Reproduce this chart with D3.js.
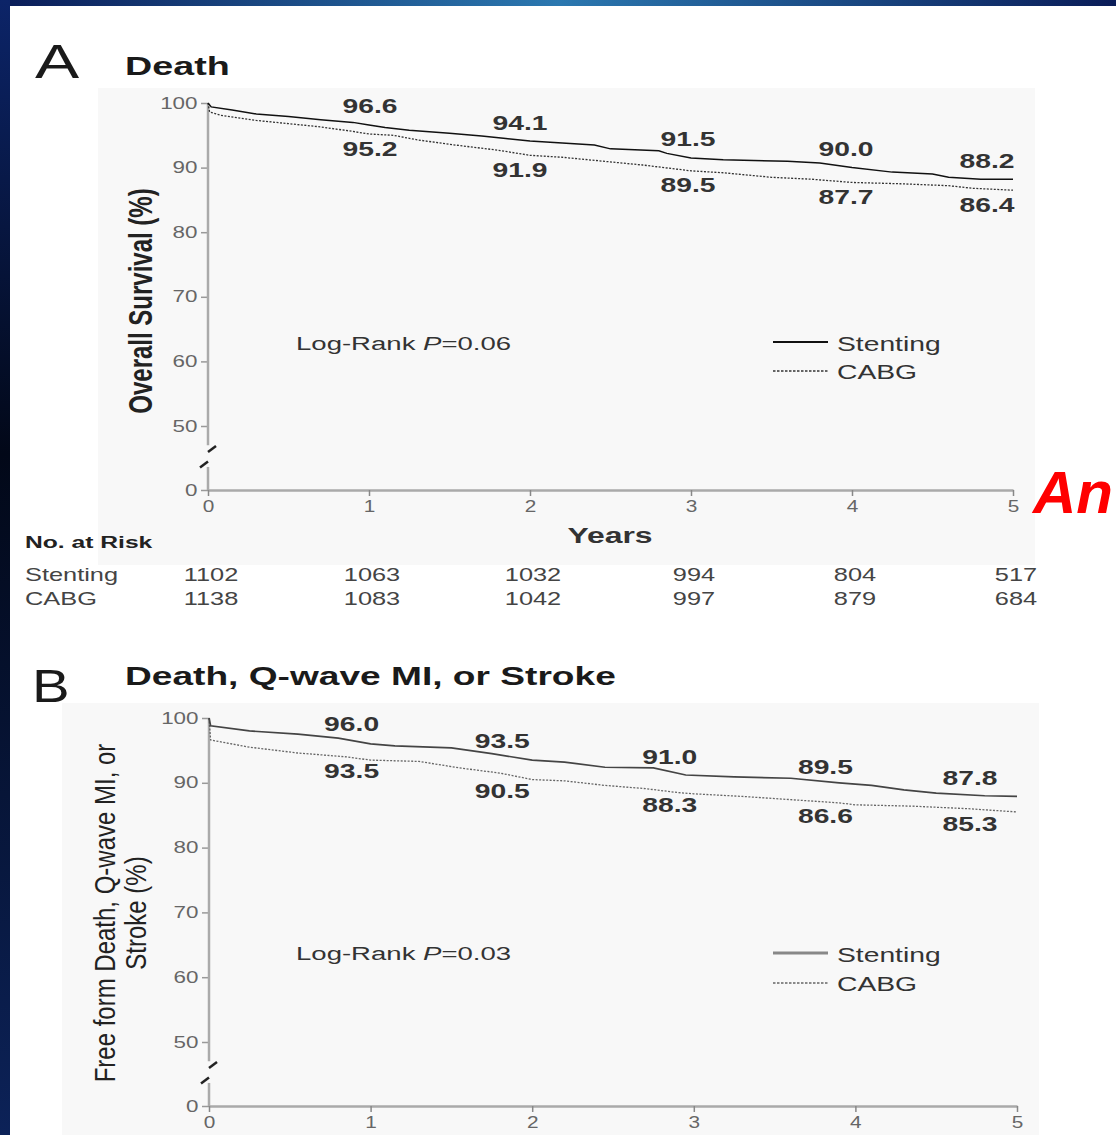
<!DOCTYPE html>
<html>
<head>
<meta charset="utf-8">
<script src="https://cdn.jsdelivr.net/npm/d3@7"></script>
<style>
  body { margin: 0; background: #000; }
  svg { display: block; }
  text { font-family: "Liberation Sans", Arial, sans-serif; }
</style>
</head>
<body>
<svg></svg>
<script>
let width = 1116
let height = 1135
let sx = 1.45   // the source figure is stretched sideways

let years = [0, 1, 2, 3, 4, 5]
let yTicks = [0, 50, 60, 70, 80, 90, 100]
let labelYears = [1, 2, 3, 4, 5]

// Panel A: death
let deathStenting = [[0, 100], [0.02, 99.4], [0.15, 98.9], [0.3, 98.3], [0.5, 97.9], [0.7, 97.4], [0.9, 97.0],
  [1.0, 96.6], [1.1, 96.2], [1.25, 95.8], [1.5, 95.3], [1.7, 94.9], [1.85, 94.5], [2.0, 94.1], [2.2, 93.8],
  [2.4, 93.5], [2.5, 92.9], [2.8, 92.6], [2.85, 92.2], [3.0, 91.5], [3.2, 91.2], [3.6, 91.0], [3.8, 90.7],
  [4.0, 90.0], [4.25, 89.3], [4.5, 89.0], [4.6, 88.5], [4.8, 88.2], [5.0, 88.2]]
let deathCabg = [[0, 100], [0.01, 98.6], [0.08, 98.1], [0.3, 97.3], [0.5, 96.8], [0.7, 96.3], [0.9, 95.6],
  [1.0, 95.2], [1.15, 95.0], [1.3, 94.3], [1.5, 93.6], [1.8, 92.7], [2.0, 91.9], [2.2, 91.6], [2.45, 91.0],
  [2.7, 90.4], [2.9, 89.8], [3.0, 89.5], [3.2, 89.2], [3.5, 88.5], [3.75, 88.2], [4.0, 87.7], [4.3, 87.5],
  [4.6, 87.2], [4.75, 86.8], [5.0, 86.5]]
let deathStentingLabels = [96.6, 94.1, 91.5, 90.0, 88.2]
let deathCabgLabels = [95.2, 91.9, 89.5, 87.7, 86.4]

// Panel B: death, Q-wave MI or stroke
let compStenting = [[0, 100], [0.01, 98.8], [0.25, 98.0], [0.55, 97.5], [0.8, 96.9], [1.0, 96.0], [1.15, 95.7],
  [1.5, 95.4], [1.75, 94.5], [2.0, 93.5], [2.2, 93.2], [2.45, 92.4], [2.75, 92.3], [2.95, 91.2], [3.25, 90.9],
  [3.6, 90.7], [3.9, 90.0], [4.1, 89.6], [4.3, 88.9], [4.5, 88.4], [4.8, 88.0], [5.0, 87.9]]
let compCabg = [[0, 100], [0.01, 96.6], [0.25, 95.5], [0.55, 94.6], [0.85, 94.0], [1.0, 93.5], [1.3, 93.3],
  [1.55, 92.3], [1.8, 91.5], [2.0, 90.5], [2.2, 90.3], [2.45, 89.6], [2.7, 89.1], [2.9, 88.5], [3.0, 88.3],
  [3.3, 87.9], [3.6, 87.4], [3.9, 86.9], [4.0, 86.6], [4.35, 86.4], [4.7, 86.0], [5.0, 85.5]]
let compStentingLabels = [96.0, 93.5, 91.0, 89.5, 87.8]
let compCabgLabels = [93.5, 90.5, 88.3, 86.6, 85.3]

let groups = ['Stenting', 'CABG']
let riskStenting = [1102, 1063, 1032, 994, 804, 517]
let riskCabg = [1138, 1083, 1042, 997, 879, 684]

let svg = d3.select('svg')
    .attr('width', width)
    .attr('height', height)

// slide background
let defs = svg.append('defs')
let topGrad = defs.append('linearGradient').attr('id', 'topGrad')
topGrad.append('stop').attr('offset', 0).attr('stop-color', '#0a1c58')
topGrad.append('stop').attr('offset', 0.5).attr('stop-color', '#2b78b0')
topGrad.append('stop').attr('offset', 1).attr('stop-color', '#0a1c58')
let leftGrad = defs.append('linearGradient').attr('id', 'leftGrad')
    .attr('x1', 0).attr('y1', 0).attr('x2', 0).attr('y2', 1)
leftGrad.append('stop').attr('offset', 0).attr('stop-color', '#0c2468')
leftGrad.append('stop').attr('offset', 0.4).attr('stop-color', '#020818')
leftGrad.append('stop').attr('offset', 1).attr('stop-color', '#0c2258')

svg.append('rect').attr('width', width).attr('height', height).attr('fill', '#06123a')
svg.append('rect').attr('width', width).attr('height', 6).attr('fill', 'url(#topGrad)')
svg.append('rect').attr('width', 10).attr('height', height).attr('fill', 'url(#leftGrad)')
svg.append('rect').attr('x', 10).attr('y', 6).attr('width', width - 10).attr('height', height - 6).attr('fill', '#fff')

function label(g, x, y, s, size, o = {}) {
  return g.append('text')
      .attr('transform', `translate(${x},${y}) scale(${o.sx || sx},1)`)
      .attr('text-anchor', o.anchor || 'start')
      .attr('fill', o.color || '#333')
      .style('font-size', size + 'px')
      .style('font-weight', o.weight || 'normal')
      .style('font-style', o.style || 'normal')
      .text(s)
}

let panels = [
  {
    letter: 'A', letterPos: [35, 78, 48, 1.38], title: 'Death', titleY: 75, titleSize: 26,
    stenting: deathStenting, cabg: deathCabg,
    stentingLabels: deathStentingLabels, cabgLabels: deathCabgLabels,
    pText: '=0.06',
    xRange: [208, 1013], yRange: [490, 426, 103],
    back: [98, 88, 1035, 565],
    labelDx: [1, -10, -3, -6, -26], labelDy: [-11.5, 21.5],
    legendY: [342, 371], logRankY: 350,
    stentColor: '#111', stentWidth: 1.5, cabgColor: '#333',
    legendStentColor: '#111', legendStentWidth: 2,
    yTitle: ['Overall Survival (%)'], yTitleX: [152], yTitleY: 301, yTitleWeight: 'bold', yTitleSy: 1.4
  },
  {
    letter: 'B', letterPos: [32, 702, 47, 1.2], title: 'Death, Q-wave MI, or Stroke', titleY: 685, titleSize: 25.6,
    stenting: compStenting, cabg: compCabg,
    stentingLabels: compStentingLabels, cabgLabels: compCabgLabels,
    pText: '=0.03',
    xRange: [209, 1017], yRange: [1106, 1042, 718],
    back: [62, 703, 1039, 1135],
    labelDx: [-19, -30, -24, -30, -47], labelDy: [-12.5, 18],
    legendY: [953, 983], logRankY: 960,
    stentColor: '#444', stentWidth: 1.7, cabgColor: '#666',
    legendStentColor: '#888', legendStentWidth: 3,
    yTitle: ['Free form Death, Q-wave MI, or', 'Stroke (%)'], yTitleX: [115, 146], yTitleY: 913,
    yTitleWeight: 'normal', yTitleSy: 1.2
  }
]

panels.forEach(p => {
  let g = svg.append('g')

  g.append('rect')
      .attr('x', p.back[0]).attr('y', p.back[1])
      .attr('width', p.back[2] - p.back[0]).attr('height', p.back[3] - p.back[1])
      .attr('fill', '#f8f8f8')

  let x = d3.scaleLinear().domain([0, 5]).range(p.xRange)
  let y = d3.scaleLinear().domain([0, 50, 100]).range(p.yRange)

  label(g, p.letterPos[0], p.letterPos[1], p.letter, p.letterPos[2], { sx: p.letterPos[3], color: '#1a1a1a' })
  label(g, 125, p.titleY, p.title, p.titleSize, { weight: 'bold', color: '#1a1a1a' })

  // y axis, broken between 0 and 50
  let yAxis = d3.axisLeft(y)
                .tickValues(yTicks)
                .tickSize(7)
                .tickPadding(0.5)
                .tickSizeOuter(0)
  let gy = g.append('g')
      .attr('transform', `translate(${x(0)}, 0)`)
      .call(yAxis)
  gy.select('.domain').remove()
  gy.selectAll('.tick line').attr('stroke', '#999').attr('stroke-width', 1.5)
  gy.selectAll('.tick text')
      .attr('fill', '#666')
      .style('font-size', '16px')
      .attr('transform', 'scale(1.4,1)')

  let axisParts = [[100, 35], [18, 0]]
  g.selectAll(null)
    .data(axisParts)
    .enter()
    .append('line')
      .attr('x1', x(0)).attr('x2', x(0))
      .attr('y1', d => y(d[0])).attr('y2', d => y(d[1]))
      .attr('stroke', '#aaa')
      .attr('stroke-width', 2.5)

  g.selectAll(null)
    .data([[4, 32], [-4, 20]])
    .enter()
    .append('line')
      .attr('x1', d => x(0) + d[0] - 4).attr('y1', d => y(d[1]) + 3)
      .attr('x2', d => x(0) + d[0] + 4).attr('y2', d => y(d[1]) - 3)
      .attr('stroke', '#222')
      .attr('stroke-width', 2.5)

  let xAxis = d3.axisBottom(x)
                .tickValues(years)
                .tickFormat(d3.format('d'))
                .tickSize(6)
                .tickPadding(5)
                .tickSizeOuter(0)
  let gx = g.append('g')
      .attr('transform', `translate(0, ${y(0)})`)
      .call(xAxis)
  gx.select('.domain').attr('stroke', '#aaa').attr('stroke-width', 2.5)
  gx.selectAll('.tick line').attr('stroke', '#888').attr('stroke-width', 1.5)
  gx.selectAll('.tick text')
      .attr('fill', '#666')
      .style('font-size', '16px')
      .attr('transform', 'scale(1.3,1)')

  // survival curves
  let line = d3.line()
               .x(d => x(d[0]))
               .y(d => y(d[1]))

  g.append('path')
      .datum(p.cabg)
      .attr('d', line)
      .attr('fill', 'none')
      .attr('stroke', p.cabgColor)
      .attr('stroke-width', 1.3)
      .attr('stroke-dasharray', '2,1.5')

  g.append('path')
      .datum(p.stenting)
      .attr('d', line)
      .attr('fill', 'none')
      .attr('stroke', p.stentColor)
      .attr('stroke-width', p.stentWidth)

  labelYears.forEach((yr, i) => {
    label(g, x(yr) + p.labelDx[i], y(p.stentingLabels[i]) + p.labelDy[0],
          d3.format('.1f')(p.stentingLabels[i]), 19.5, { anchor: 'middle', weight: 'bold' })
    label(g, x(yr) + p.labelDx[i], y(p.cabgLabels[i]) + p.labelDy[1],
          d3.format('.1f')(p.cabgLabels[i]), 19.5, { anchor: 'middle', weight: 'bold' })
  })

  // log-rank
  let lr = label(g, 296, p.logRankY, 'Log-Rank ', 19, { color: '#333' })
  lr.append('tspan').style('font-style', 'italic').text('P')
  lr.append('tspan').text(p.pText)

  // legend
  g.append('line')
      .attr('x1', 773).attr('x2', 828)
      .attr('y1', p.legendY[0]).attr('y2', p.legendY[0])
      .attr('stroke', p.legendStentColor)
      .attr('stroke-width', p.legendStentWidth)
  g.append('line')
      .attr('x1', 773).attr('x2', 828)
      .attr('y1', p.legendY[1]).attr('y2', p.legendY[1])
      .attr('stroke', p.cabgColor)
      .attr('stroke-width', 1.3)
      .attr('stroke-dasharray', '2.5,1.5')
  label(g, 837, p.legendY[0] + 9, groups[0], 19.5)
  label(g, 837, p.legendY[1] + 8, groups[1], 19.5)

  // rotated y title
  p.yTitle.forEach((t, i) => {
    g.append('text')
        .attr('transform', `translate(${p.yTitleX[i]},${p.yTitleY}) rotate(-90) scale(1,${p.yTitleSy})`)
        .attr('text-anchor', 'middle')
        .attr('fill', '#222')
        .style('font-size', '24px')
        .style('font-weight', p.yTitleWeight)
        .text(t)
  })

  p.x = x
})

// risk table under panel A
let xA = panels[0].x
label(svg, 610, 543, 'Years', 22, { anchor: 'middle', weight: 'bold', color: '#333' })
label(svg, 25, 548, 'No. at Risk', 17, { weight: 'bold', color: '#222' })

let riskRows = [riskStenting, riskCabg]
let rowY = [581, 605]
riskRows.forEach((row, r) => {
  label(svg, 25, rowY[r], groups[r], 17.5, { color: '#444' })
  row.forEach((n, i) => {
    label(svg, xA(years[i]) + 3, rowY[r], n, 17.5, { anchor: 'middle', color: '#444' })
  })
})

// slide text partly cut off at the right edge
svg.append('text')
    .attr('x', 1033)
    .attr('y', 513)
    .attr('fill', '#ff0000')
    .style('font-size', '60px')
    .style('font-weight', 'bold')
    .style('font-style', 'italic')
    .text('An')
</script>
</body>
</html>
